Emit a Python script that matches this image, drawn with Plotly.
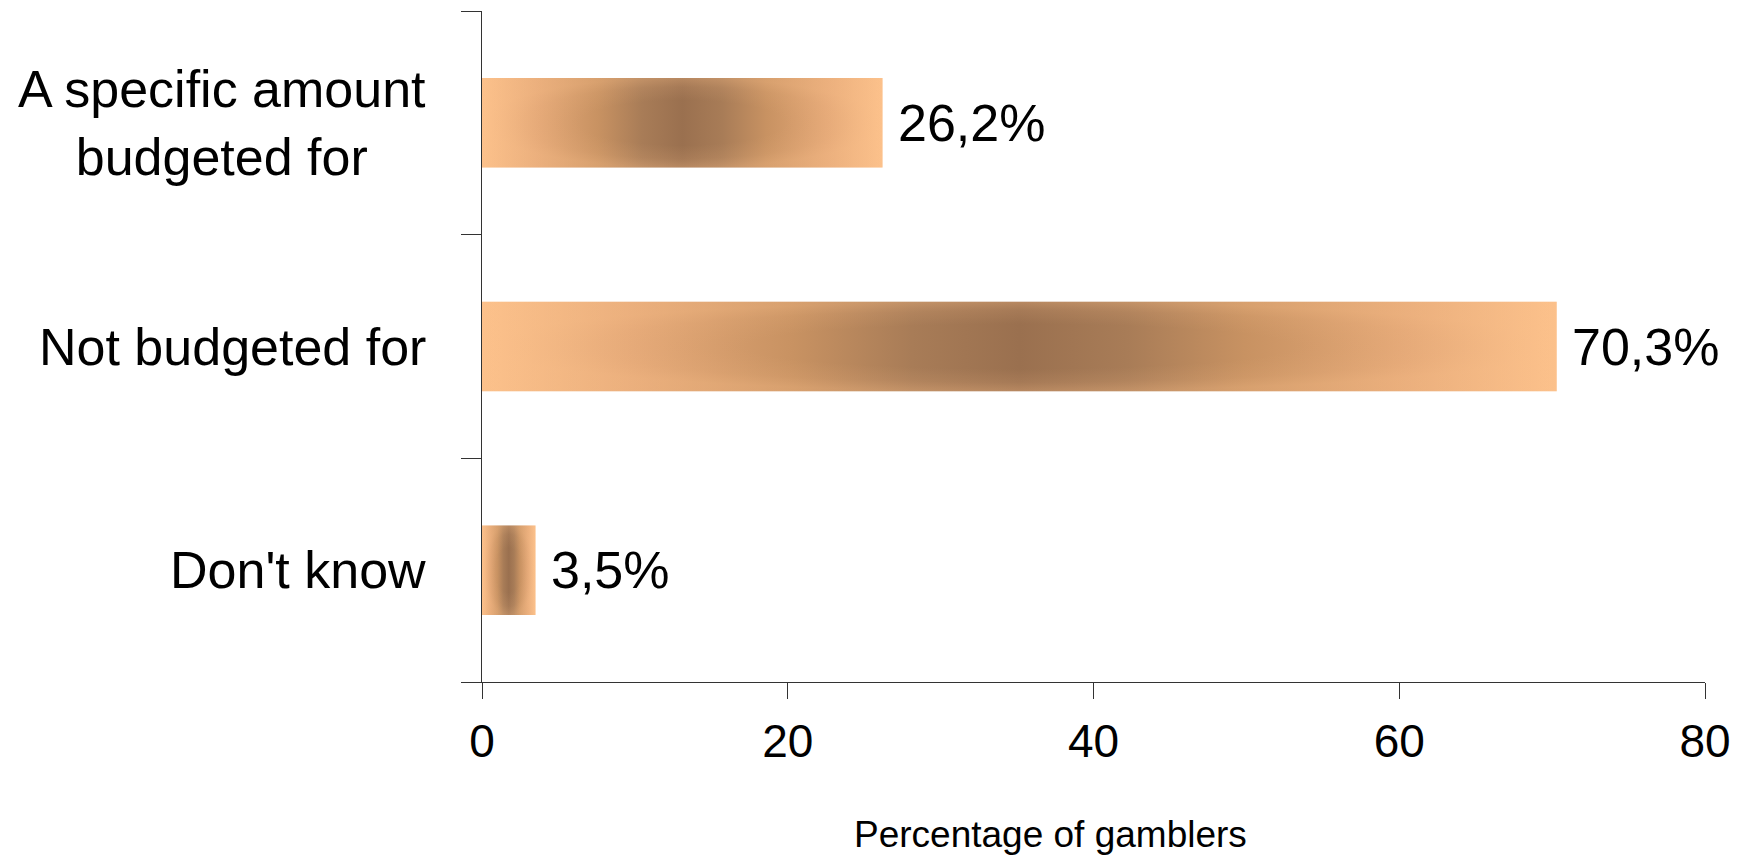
import plotly.graph_objects as go

# Survey responses, listed top to bottom as they appear on the chart
categories = ["A specific amount<br>budgeted for", "Not budgeted for", "Don't know"]
percentages = [26.2, 70.3, 3.5]
x_ticks = [0, 20, 40, 60, 80]
axis_title = "Percentage of gamblers"

FONT = "Liberation Sans, Arial, sans-serif"
BAR_HALF = 0.2
LIGHT = "#FCC18B"
# Warm gradient across each bar: light apricot edges, dark brown core
across_scale = [
    [0.0, LIGHT],
    [0.14, "#E4A877"],
    [0.29, "#C89262"],
    [0.40, "#A87C57"],
    [0.50, "#9A704F"],
    [0.60, "#A87C57"],
    [0.71, "#C89262"],
    [0.86, "#E4A877"],
    [1.0, LIGHT],
]
# Soft halo that lightens the top and bottom edges away from the core
halo_scale = [
    [0.0, "rgba(252,193,139,0)"],
    [0.5, "rgba(252,193,139,0)"],
    [0.8, "rgba(252,193,139,0.12)"],
    [1.0, "rgba(252,193,139,0.3)"],
]

n = len(categories)
fig = go.Figure()

for i, (cat, val) in enumerate(zip(categories, percentages)):
    yc = n - 1 - i
    xs = [0, val, val, 0, 0]
    ys = [yc - BAR_HALF, yc - BAR_HALF, yc + BAR_HALF, yc + BAR_HALF, yc - BAR_HALF]
    fig.add_trace(go.Scatter(
        x=xs, y=ys, mode="lines", line=dict(width=0),
        fill="toself",
        fillgradient=dict(type="horizontal", colorscale=across_scale),
        hoverinfo="skip", showlegend=False,
    ))
    fig.add_trace(go.Scatter(
        x=xs, y=ys, mode="lines", line=dict(width=0),
        fill="toself",
        fillgradient=dict(type="radial", colorscale=halo_scale),
        hoverinfo="skip", showlegend=False,
    ))
    # value label just past the bar end
    fig.add_annotation(
        x=val, y=yc, xref="x", yref="y",
        text=f"{val:.1f}".replace(".", ",") + "%",
        showarrow=False, xanchor="left", yanchor="middle", xshift=13,
        font=dict(family=FONT, size=52, color="#000000"),
    )
    # category label to the left of the axis
    fig.add_annotation(
        x=0, y=yc, xref="paper", yref="y",
        text=cat, showarrow=False, align="center",
        xanchor="right", yanchor="middle", xshift=-54,
        font=dict(family=FONT, size=52, color="#000000"),
    )

fig.add_annotation(
    x=0.4645, y=0, xref="paper", yref="paper",
    text=axis_title, showarrow=False,
    xanchor="center", yanchor="middle", yshift=-152,
    font=dict(family=FONT, size=37, color="#000000"),
)

fig.update_layout(
    width=1744, height=860, autosize=False,
    margin=dict(l=482, r=39, t=11, b=178),
    paper_bgcolor="white", plot_bgcolor="white",
    showlegend=False,
    xaxis=dict(
        range=[0, 80], tickvals=x_ticks, ticktext=[str(t) for t in x_ticks],
        showgrid=False, zeroline=False,
        showline=True, linecolor="#333333", linewidth=1,
        ticks="outside", ticklen=16, tickcolor="#333333", tickwidth=1,
        tickfont=dict(family=FONT, size=46, color="#000000"),
        ticklabelstandoff=3,
    ),
    yaxis=dict(
        range=[-0.5, n - 0.5], tickvals=[k - 0.5 for k in range(n + 1)],
        showticklabels=False, showgrid=False, zeroline=False,
        showline=True, linecolor="#333333", linewidth=1,
        ticks="outside", ticklen=20, tickcolor="#333333", tickwidth=1,
    ),
)

fig.write_html("out.html")
